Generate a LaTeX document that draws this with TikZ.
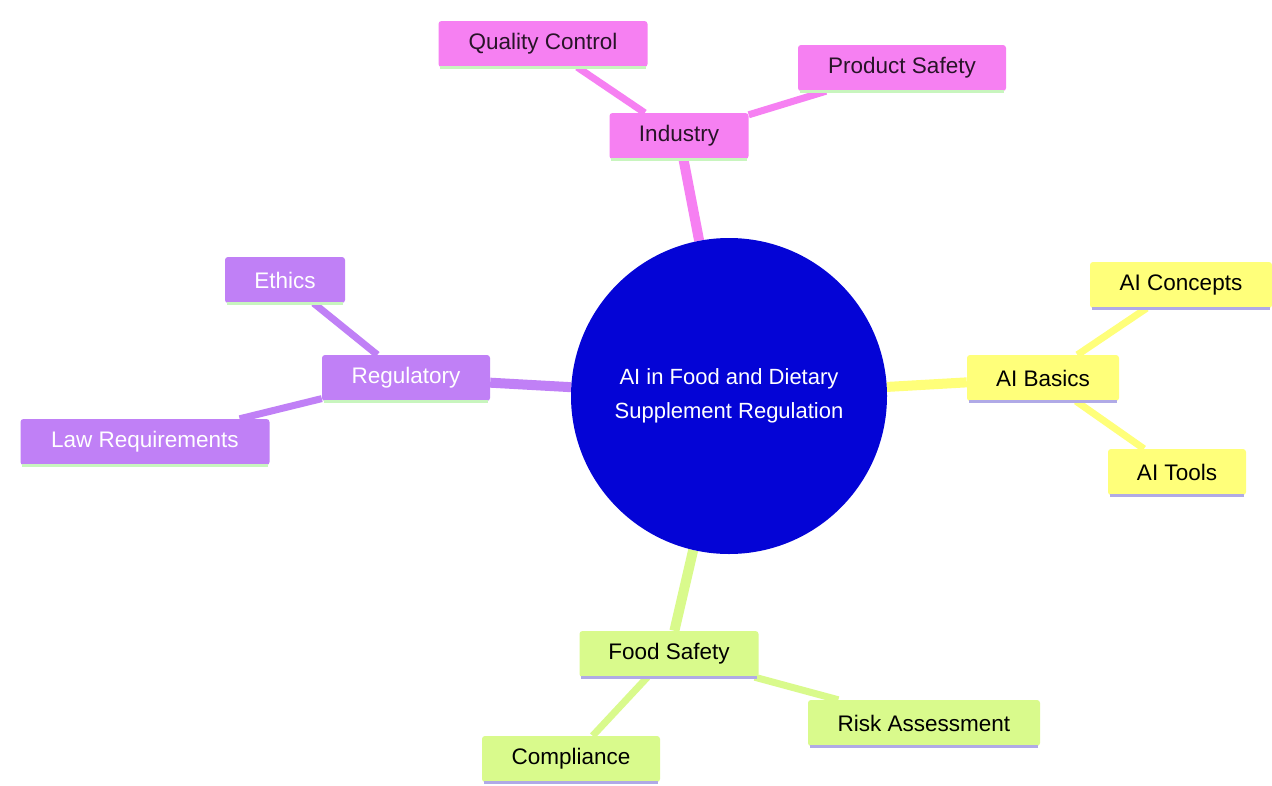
\documentclass[tikz,border=0pt]{standalone}
\usepackage{fontspec}
\setmainfont{Liberation Sans}
\usetikzlibrary{backgrounds}
\definecolor{pinkF}{RGB}{246,128,242}
\definecolor{purpF}{RGB}{192,128,246}
\definecolor{yellF}{RGB}{255,255,122}
\definecolor{greeF}{RGB}{217,250,140}
\definecolor{centF}{RGB}{4,4,214}
\definecolor{ulGreen}{RGB}{200,245,190}
\definecolor{ulLav}{RGB}{176,170,230}
\definecolor{darkT}{RGB}{40,20,40}
\begin{document}
\begin{tikzpicture}[x=1pt,y=-1pt,
  box/.style={rectangle,rounded corners=3pt,inner xsep=0pt,inner ysep=0pt,minimum height=46pt,font=\fontsize{22.5}{26}\selectfont},
  pinkbox/.style={box,fill=pinkF,text=darkT},
  purpbox/.style={box,fill=purpF,text=white},
  yellbox/.style={box,fill=yellF,text=black},
  greebox/.style={box,fill=greeF,text=black},
  mainedge/.style={line width=10pt},
  leafedge/.style={line width=7pt},
  ul/.style={line width=3pt}]
\useasboundingbox (0,0) rectangle (1272,785);

\node[circle,fill=centF,minimum size=316pt,inner sep=0pt,text=white,align=center,font=\fontsize{22}{34}\selectfont] (c) at (729,396) {AI in Food and Dietary\\Supplement Regulation};

\node[pinkbox,minimum width=139pt] (ind) at (679,136) {Industry};
\node[pinkbox,minimum width=209pt] (qc) at (543,44) {Quality Control};
\node[pinkbox,minimum width=208pt] (ps) at (902,68) {Product Safety};

\node[purpbox,minimum width=168pt] (reg) at (406,378) {Regulatory};
\node[purpbox,minimum width=120pt] (eth) at (285,280) {Ethics};
\node[purpbox,minimum width=249pt] (law) at (145,442) {Law Requirements};

\node[yellbox,minimum width=152pt] (aib) at (1043,378) {AI Basics};
\node[yellbox,minimum width=182pt] (aic) at (1181,285) {AI Concepts};
\node[yellbox,minimum width=138pt] (ait) at (1177,472) {AI Tools};

\node[greebox,minimum width=179pt] (fs) at (669,654) {Food Safety};
\node[greebox,minimum width=232pt] (ra) at (924,723) {Risk Assessment};
\node[greebox,minimum width=178pt] (co) at (571,759) {Compliance};

\begin{scope}[on background layer]
  \fill[white] (0,0) rectangle (1272,785);
  \draw[mainedge,pinkF] (c) -- (ind);
  \draw[leafedge,pinkF] (ind) -- (qc);
  \draw[leafedge,pinkF] (ind) -- (ps);
  \draw[mainedge,purpF] (c) -- (reg);
  \draw[leafedge,purpF] (reg) -- (eth);
  \draw[leafedge,purpF] (reg) -- (law);
  \draw[mainedge,yellF] (c) -- (aib);
  \draw[leafedge,yellF] (aib) -- (aic);
  \draw[leafedge,yellF] (aib) -- (ait);
  \draw[mainedge,greeF] (c) -- (fs);
  \draw[leafedge,greeF] (fs) -- (ra);
  \draw[leafedge,greeF] (fs) -- (co);
\end{scope}

\foreach \n in {ind,qc,ps,reg,eth,law}
  \draw[ul,ulGreen] ([xshift=2pt]\n.south west) -- ([xshift=-2pt]\n.south east);
\foreach \n in {aib,aic,ait,fs,ra,co}
  \draw[ul,ulLav] ([xshift=2pt]\n.south west) -- ([xshift=-2pt]\n.south east);
\end{tikzpicture}
\end{document}
